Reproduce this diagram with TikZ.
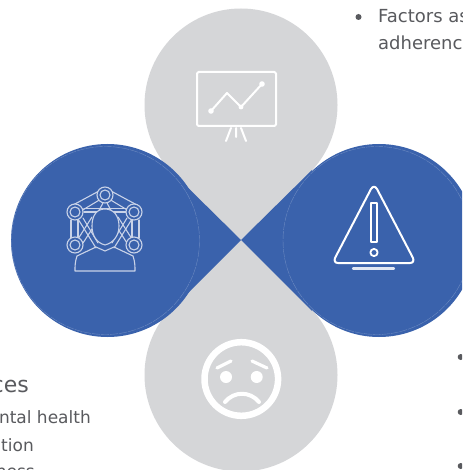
\documentclass[tikz,border=0pt]{standalone}
\usepackage{fontspec}
\setmainfont{DejaVu Sans}
\definecolor{tblue}{HTML}{3A62AC}
\definecolor{tgray}{HTML}{D5D6D8}
\definecolor{ttext}{HTML}{595A5E}
\definecolor{ticon}{HTML}{C9D3E8}
\tikzset{
  petalblue/.style={fill=tblue,draw=none},
  petalgray/.style={fill=tgray,draw=none},
  seam/.style={draw=white,draw opacity=.25,line width=.4pt,dash pattern=on 8pt off 1pt},
  iconline/.style={draw=white,line width=2pt,line cap=round,line join=round},
  netline/.style={draw=ticon,line width=1.1pt,line cap=round,line join=round},
  body/.style={text=ttext,font=\fontsize{17}{17}\selectfont,anchor=base east,inner sep=0pt},
  bodyl/.style={text=ttext,font=\fontsize{18}{18}\selectfont,anchor=base west,inner sep=0pt},
  dotb/.style={fill=ttext,draw=none}
}
\newcommand{\netnode}[2]{\draw[netline,fill=tblue] (#1,#2) circle (8); \draw[netline] (#1,#2) circle (5);}
\begin{document}
\begin{tikzpicture}[x=1pt,y=-1pt]
\useasboundingbox (0,0) rectangle (462,470);
\clip (0,0) rectangle (462,470);
\fill[white] (0,0) rectangle (462,470);
% gray petals
\def\r{96.5}
\fill[petalgray] (241,105) circle (\r);
\fill[petalgray] (241,375) circle (\r);
\fill[petalgray] (171,173) -- (241,240) -- (311,173) -- cycle;
\fill[petalgray] (171,307) -- (241,240) -- (311,307) -- cycle;
% blue petals
\fill[petalblue] (107.5,240.5) circle (\r);
\fill[petalblue] (379,240.5) circle (\r);
\fill[petalblue] (172,172) -- (241,240) -- (172,309) -- cycle;
\fill[petalblue] (312,170) -- (241,240) -- (312,311) -- cycle;
\draw[seam] (105.5,240.5) circle (94);
\draw[seam] (377,240.5) circle (94);
% chart icon
\draw[iconline,rounded corners=1.5pt] (197,72) rectangle (276,126);
\draw[iconline] (211,111) -- (227,93) -- (241,107) -- (262,84);
\fill[white] (211,111) circle (2.8) (241,107) circle (2.4) (262,84) circle (2.8);
\draw[iconline] (231,128) -- (226,141) (236,128) -- (236,137) (241,128) -- (246,141);
% network head icon
\draw[netline] (99,191) -- (73,205) (101,199) -- (81,211)
               (111,191) -- (137,205) (109,199) -- (129,211);
\draw[netline] (71,220) -- (71,238) (78,220) -- (78,238)
               (139,220) -- (139,238) (132,220) -- (132,238);
\draw[netline] (84,208.5) -- (126,208.5) (84,212) -- (126,212);
\draw[netline] (103,203) -- (97,214) (107,203) -- (113,214);
\draw[netline] (78,219) -- (96,248) (83,218) -- (98,243)
               (132,219) -- (114,248) (127,218) -- (112,243);
\draw[netline] (78,239) -- (92,217) (83,243) -- (94,226)
               (132,239) -- (118,217) (127,243) -- (116,226);
\netnode{105}{195}\netnode{75}{212}\netnode{134}{212}\netnode{75}{245}\netnode{134}{245}
\draw[netline,fill=tblue] (105,209) .. controls (97,209) and (92,215) .. (92,226) .. controls (92,236) and (97,243) .. (105,245) .. controls (113,243) and (119,236) .. (119,226) .. controls (119,215) and (113,209) .. (105,209) -- cycle;
\draw[netline] (77,256) .. controls (75,262) and (75,266) .. (75,271) -- (135,271) .. controls (135,266) and (135,262) .. (133,256);
\draw[netline] (77,256) -- (96,247) -- (105,251) -- (114,247) -- (133,256);
% warning icon
\draw[iconline] (371,189) -- (335,258) .. controls (334,261) and (335,263) .. (338,263) -- (410,263) .. controls (413,263) and (414,261) .. (413,258) -- (377,189) .. controls (375,186) and (373,186) .. (371,189) -- cycle;
\draw[iconline,line width=1.8pt] (371,203) rectangle (377,242);
\draw[iconline,line width=1.8pt] (374,252.5) circle (3.6);
\draw[iconline,line width=2.2pt,draw=white!85!tblue] (353,268.5) -- (394,268.5);
% face icon
\draw[draw=white,line width=6.5pt] (241.3,379) circle (36.8);
\fill[white] (226,377) circle (6) (256.7,377) circle (6);
\draw[iconline,line width=3.2pt] (217,368) -- (231,361);
\draw[iconline,line width=3.2pt] (267,368) -- (252,361);
\draw[iconline,line width=4pt] (225,402) .. controls (234,391) and (250,391) .. (259,402);
% text
\fill[dotb] (358.5,17) circle (3);
\node[bodyl] (f1) at (378,23) {Factors as};
\node[bodyl] (f2) at (378,50) {adherenc};
\fill[dotb] (460.7,357) circle (3) (460.7,412) circle (3) (460.7,466) circle (3);
\node[body,font=\fontsize{22}{22}\selectfont] (h) at (29,392) {ces};
\node[body] (l1) at (91,423) {ntal health};
\node[body] (l2) at (34,451) {tion};
\node[body] (l3) at (35,477) {ness};
\end{tikzpicture}
\end{document}
